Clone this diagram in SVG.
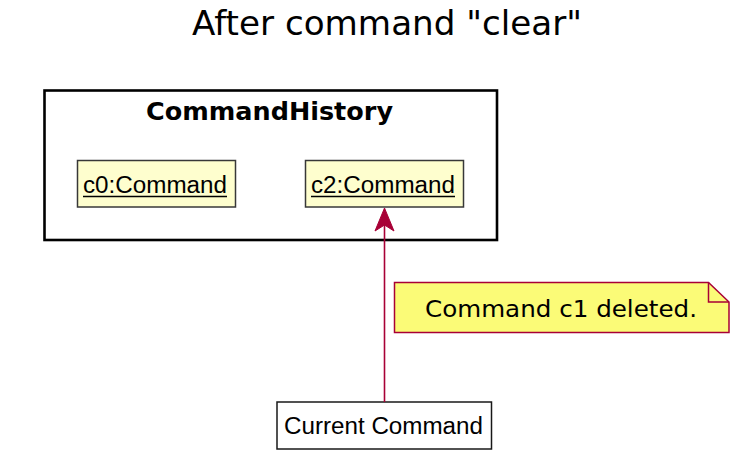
<svg xmlns="http://www.w3.org/2000/svg" width="750" height="469" viewBox="0 0 750 469">
<style>
.obj{fill:#FEFECE;stroke:#383838;stroke-width:1.5}
.ot{font-family:"Liberation Sans",Arial,sans-serif;font-size:23px;fill:#000}
.lt{font-family:"DejaVu Sans",Verdana,sans-serif;fill:#000}
.conn{stroke:#A80036;stroke-width:1.6;fill:none}
</style>
<rect width="750" height="469" fill="#FFFFFF"/>
<text class="lt" x="387" y="35" font-size="34" text-anchor="middle" textLength="390" lengthAdjust="spacingAndGlyphs">After command "clear"</text>
<g id="CommandHistory">
<rect x="44.5" y="90.5" width="452.5" height="149.5" fill="#FFFFFF" stroke="#000000" stroke-width="2.6"/>
<text class="lt" x="269.5" y="120" font-size="24" font-weight="bold" text-anchor="middle" textLength="247" lengthAdjust="spacingAndGlyphs">CommandHistory</text>
</g>
<g id="c0">
<rect class="obj" x="77.5" y="160.5" width="158" height="46.5"/>
<text class="ot" x="83" y="193" textLength="144" lengthAdjust="spacingAndGlyphs">c0:Command</text>
<line x1="83" y1="196.5" x2="227" y2="196.5" stroke="#000" stroke-width="1.6"/>
</g>
<g id="c2">
<rect class="obj" x="305.5" y="160.5" width="158" height="46.5"/>
<text class="ot" x="311" y="193" textLength="144" lengthAdjust="spacingAndGlyphs">c2:Command</text>
<line x1="311" y1="196.5" x2="455" y2="196.5" stroke="#000" stroke-width="1.6"/>
</g>
<g id="CurrentCommand">
<rect x="277" y="402" width="214.5" height="47" fill="#FFFFFF" stroke="#181818" stroke-width="1.5"/>
<text x="284" y="434" font-family="'Liberation Sans',Arial,sans-serif" font-size="23" textLength="199" lengthAdjust="spacingAndGlyphs">Current Command</text>
</g>
<g id="note">
<path d="M394.5,282.5 L708.5,282.5 L729,302 L729,332.5 L394.5,332.5 Z" fill="#FBFB77" stroke="#A80036" stroke-width="1.5"/>
<path d="M708.5,282.5 L708.5,302 L729,302" fill="none" stroke="#A80036" stroke-width="1.5"/>
<text class="lt" x="425" y="317" font-size="23" textLength="272" lengthAdjust="spacingAndGlyphs">Command c1 deleted.</text>
</g>
<g id="connectors">
<line class="conn" x1="384.5" y1="402" x2="384.5" y2="220"/>
<polygon points="384.5,208 394,231 384.5,225 375,231" fill="#A80036" stroke="#A80036" stroke-width="1"/>
</g>
</svg>
